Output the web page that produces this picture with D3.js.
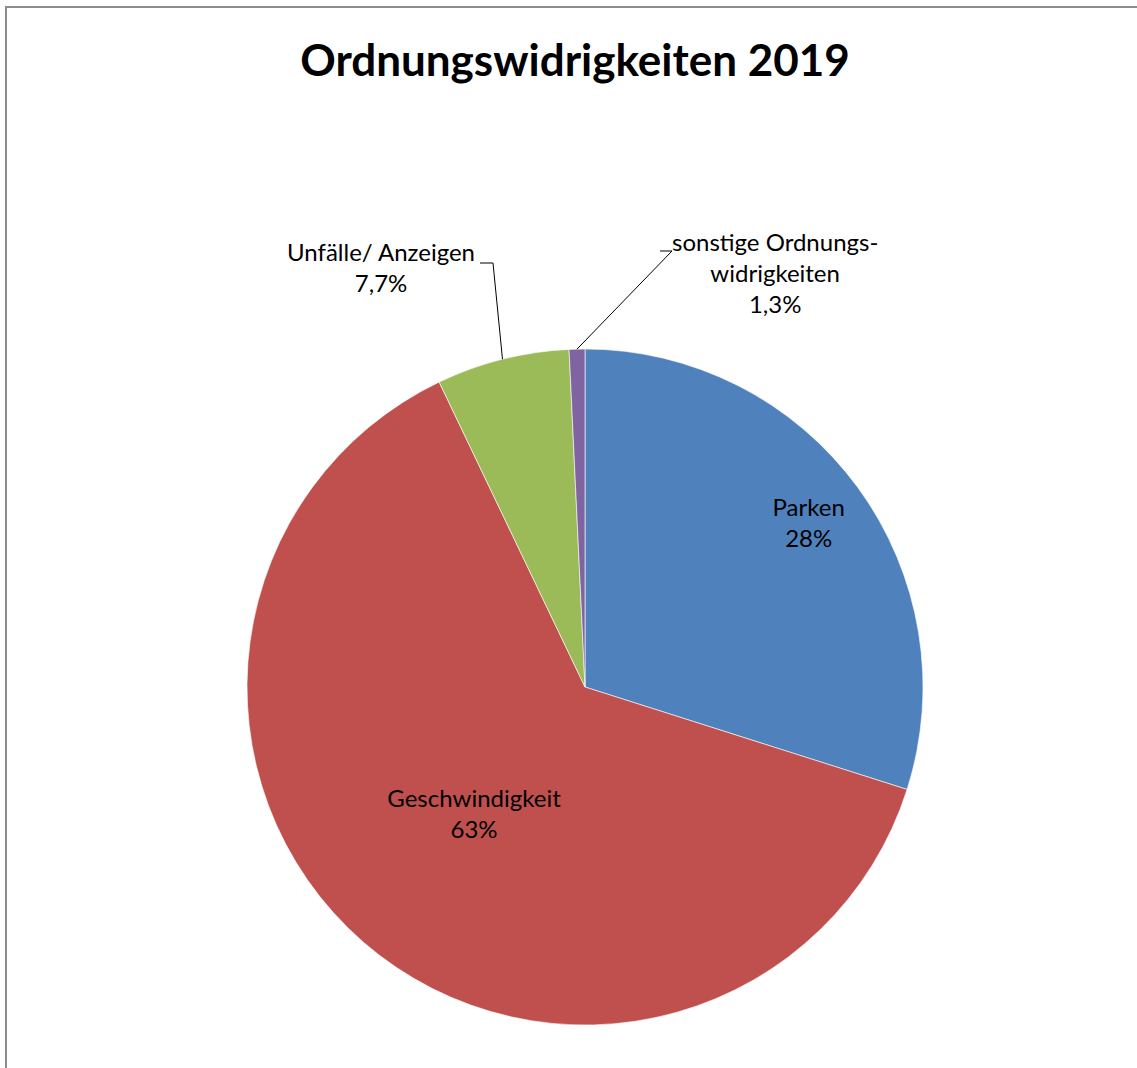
<!DOCTYPE html>
<meta charset="utf-8">
<style>
body { margin: 0; background: #fff; overflow: hidden; }
svg { font-family: Lato, "Open Sans", sans-serif; display: block; }
</style>
<svg width="1137" height="1068"></svg>
<script src="https://cdn.jsdelivr.net/npm/d3@7"></script>
<script>

// slices clockwise from 12 o'clock, sizes as drawn
var categories = ["Parken", "Geschwindigkeit", "Unfälle/ Anzeigen", "sonstige Ordnungswidrigkeiten"];
var values = [29.9, 63.0, 6.35, 0.75];
// the printed labels (they do not match the drawn sizes exactly)
var labelLines = [
  ["Parken", "28%"],
  ["Geschwindigkeit", "63%"],
  ["Unfälle/ Anzeigen", "7,7%"],
  ["sonstige Ordnungs-", "widrigkeiten", "1,3%"]
];
var colors = ["#4f81bd", "#c0504d", "#9bbb59", "#8064a2"];

var svg = d3.select("svg"),
    width = +svg.attr("width"),
    height = +svg.attr("height");

var cx = 585, cy = 687, radius = 338;
var fontSize = 24;

// frame: only the top and left edges are visible
svg.append("path")
    .attr("d", "M6," + height + "V7H" + width)
    .attr("fill", "none")
    .attr("stroke", "#8c8c8c")
    .attr("stroke-width", 2);

svg.append("text")
    .attr("x", 575)
    .attr("y", 76)
    .attr("text-anchor", "middle")
    .attr("font-size", 44)
    .attr("font-weight", "bold")
    .text("Ordnungswidrigkeiten 2019");

var pie = d3.pie().sort(null).value(function(d) { return d; });
var arcs = pie(values);

var arc = d3.arc().innerRadius(0).outerRadius(radius);

var g = svg.append("g").attr("transform", "translate(" + cx + "," + cy + ")");

g.selectAll("path")
  .data(arcs)
  .enter().append("path")
    .attr("d", arc)
    .attr("fill", function(d, i) { return colors[i]; })
    .attr("stroke", "#fff")
    .attr("stroke-width", 0.6);

// label placement: inside labels at a fraction of the radius, outside ones with leader lines
var labelLayout = [
  { inside: 0.82 },
  { inside: 0.50 },
  { elbow: [-92, -424], end: [-105, -424], anchor: "end", dx: -5, dy: -10 },
  { elbow: [87, -436], end: [75, -436], anchor: "start", dx: 12, dy: -8 }
];

var lineH = 31;

arcs.forEach(function(d, i) {
  var lay = labelLayout[i];
  var lines = labelLines[i];
  var x, y;
  if (lay.inside) {
    var c = d3.arc().innerRadius(radius * lay.inside).outerRadius(radius * lay.inside).centroid(d);
    x = c[0]; y = c[1] - lineH * (lines.length - 1) / 2;
    var t = g.append("text").attr("text-anchor", "middle").attr("font-size", fontSize).attr("fill", "#000");
    lines.forEach(function(s, k) {
      t.append("tspan").attr("x", x).attr("y", y + k * lineH).attr("dy", "0.35em").text(s);
    });
  } else {
    var a = (d.startAngle + d.endAngle) / 2;
    var p = [Math.sin(a) * radius, -Math.cos(a) * radius];
    g.append("polyline")
        .attr("points", [p, lay.elbow, lay.end].map(function(q) { return q.join(","); }).join(" "))
        .attr("fill", "none")
        .attr("stroke", "#000")
        .attr("stroke-width", 1);
    var t2 = g.append("text").attr("text-anchor", "middle").attr("font-size", fontSize).attr("fill", "#000");
    // measure the first line to centre the block next to the leader end
    var tmp = g.append("text").attr("font-size", fontSize).text(lines[0]);
    var w = tmp.node().getComputedTextLength();
    tmp.remove();
    var bx = lay.anchor === "end" ? lay.end[0] + lay.dx - w / 2 : lay.end[0] + lay.dx + w / 2;
    var by = lay.end[1] + lay.dy;
    lines.forEach(function(s, k) {
      t2.append("tspan").attr("x", bx).attr("y", by + k * lineH).attr("dy", "0.35em").text(s);
    });
  }
});

</script>
